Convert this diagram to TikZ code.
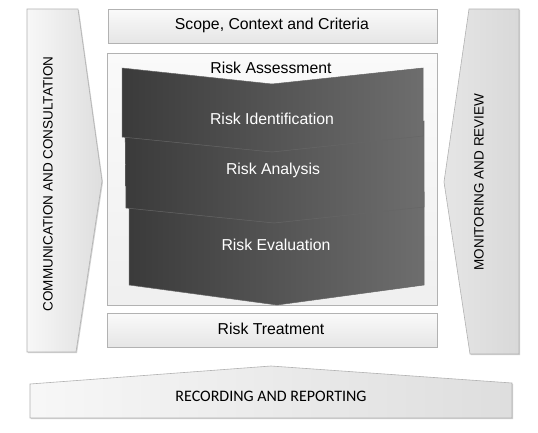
\documentclass[tikz,border=0pt]{standalone}
\usepackage{fontspec}
\setmainfont{Liberation Sans}
\newfontfamily\carlito{Carlito}
\usetikzlibrary{shadows}

\begin{document}
\begin{tikzpicture}[x=1pt,y=-1pt,
	lightbox/.style={draw=gray!60,line width=0.6pt,left color=gray!6,right color=gray!26,
		drop shadow={opacity=0.35,shadow xshift=1pt,shadow yshift=-1.2pt}},
	darkbox/.style={draw=black!60,line width=0.5pt,left color=black!77,right color=black!57},
	boxtext/.style={font=\fontsize{15.8}{18}\selectfont,inner sep=0pt},
	sidetext/.style={font=\fontsize{13.5}{16}\selectfont,inner sep=0pt,rotate=90}]
	\useasboundingbox[fill=white] (0,0) rectangle (538,432);
	
	\shade[lightbox] (27,9)--(78,9)--(102,181)--(76,352)--(27,352)--cycle;
	\shade[lightbox,left color=gray!20,right color=gray!30] (469,9)--(519,9)--(519,354)--(470,354)--(444,182)--cycle;
	\shade[lightbox] (30,384)--(271,366)--(512,383)--(512,418)--(30,418)--cycle;
	
	\shade[lightbox,top color=gray!4,bottom color=gray!20] (108,9) rectangle (437,43);
	\shade[lightbox,top color=gray!4,bottom color=gray!12] (107,53) rectangle (437,305);
	\shade[lightbox,top color=gray!4,bottom color=gray!20] (107,313) rectangle (437,347);
	
	\shade[darkbox] (129,192)--(276,208)--(424,192)--(424,285)--(277,305)--(129,285)--cycle;
	\shade[darkbox] (125,121)--(273,137)--(424,121)--(424,207)--(274,223)--(126,208)--cycle;
	\shade[darkbox] (122,68)--(272,84)--(423,68)--(423,136)--(272,152)--(122,137)--cycle;
	
	\node (scope)[boxtext] at (272,25) {Scope, Context and Criteria};
	\node (assess)[boxtext] at (271,68) {Risk Assessment};
	\node (ident)[boxtext,text=white] at (272,119) {Risk Identification};
	\node (analysis)[boxtext,text=white] at (273,170) {Risk Analysis};
	\node (evaluation)[boxtext,text=white] at (276,245) {Risk Evaluation};
	\node (treatment)[boxtext] at (271,329) {Risk Treatment};
	
	\node (comm)[sidetext] at (48,184) {COMMUNICATION AND CONSULTATION};
	\node (monitor)[sidetext] at (479,182) {MONITORING AND REVIEW};
	\node (record)[font=\carlito\fontsize{16}{19}\selectfont,inner sep=0pt] at (271,396) {RECORDING AND REPORTING};
\end{tikzpicture}
\end{document}
